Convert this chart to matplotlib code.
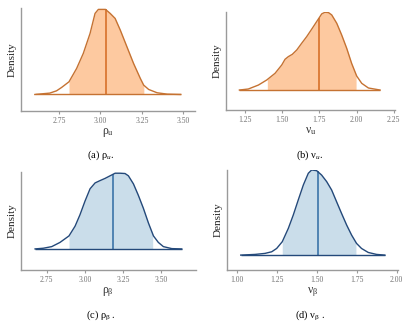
import matplotlib
matplotlib.use("Agg")
import matplotlib.pyplot as plt
import numpy as np

plt.rcParams['font.family'] = ['Liberation Serif', 'DejaVu Serif']
plt.rcParams['mathtext.fontset'] = 'custom'
plt.rcParams['mathtext.rm'] = 'Liberation Serif'
plt.rcParams['mathtext.it'] = 'Liberation Serif:italic'

# posterior densities (peak scaled to 1)
rho_u_x = [2.605, 2.695, 2.736, 2.766, 2.811, 2.857, 2.897, 2.938, 2.968, 2.988, 3.031,
           3.059, 3.089, 3.120, 3.160, 3.200, 3.241, 3.261, 3.291, 3.342, 3.403, 3.483]
rho_u_y = [0.0, 0.016, 0.043, 0.082, 0.149, 0.306, 0.482, 0.718, 0.953, 1.0, 1.0,
           0.953, 0.894, 0.757, 0.561, 0.365, 0.188, 0.110, 0.059, 0.020, 0.004, 0.0]
rho_u_med = 3.031
rho_u_ci = (2.811, 3.262)

nu_u_x = [1.212, 1.272, 1.340, 1.396, 1.452, 1.497, 1.519, 1.541, 1.568, 1.598, 1.631, 1.665, 1.698,
          1.732, 1.766, 1.788, 1.811, 1.833, 1.867, 1.900, 1.934, 1.967, 2.001, 2.035, 2.080, 2.158]
nu_u_y = [0.0, 0.013, 0.064, 0.129, 0.215, 0.322, 0.395, 0.429, 0.459, 0.515, 0.601, 0.687, 0.781,
          0.880, 0.979, 1.0, 0.996, 0.966, 0.858, 0.708, 0.536, 0.343, 0.180, 0.086, 0.026, 0.0]
nu_u_med = 1.746
nu_u_ci = (1.400, 1.997)

rho_b_x = [2.674, 2.728, 2.783, 2.837, 2.896, 2.936, 2.968, 3.001, 3.034, 3.067, 3.099, 3.132, 3.165,
           3.198, 3.230, 3.263, 3.285, 3.318, 3.350, 3.383, 3.416, 3.449, 3.481, 3.514, 3.569, 3.634]
rho_b_y = [0.0, 0.009, 0.030, 0.085, 0.170, 0.298, 0.447, 0.626, 0.787, 0.864, 0.894, 0.923, 0.957,
           0.991, 0.991, 0.987, 0.957, 0.851, 0.702, 0.532, 0.340, 0.170, 0.085, 0.030, 0.004, 0.0]
rho_b_med = 3.184
rho_b_ci = (2.896, 3.444)

nu_b_x = [1.025, 1.115, 1.177, 1.219, 1.250, 1.285, 1.323, 1.354, 1.385, 1.417, 1.448, 1.469, 1.500,
          1.531, 1.563, 1.594, 1.625, 1.656, 1.688, 1.719, 1.750, 1.781, 1.823, 1.875, 1.927]
nu_b_y = [0.0, 0.008, 0.020, 0.039, 0.078, 0.157, 0.314, 0.471, 0.647, 0.824, 0.961, 1.0, 0.992,
          0.941, 0.863, 0.765, 0.627, 0.490, 0.353, 0.235, 0.137, 0.078, 0.031, 0.008, 0.0]
nu_b_med = 1.506
nu_b_ci = (1.285, 1.746)

orange_line = '#C57232'
orange_fill = '#FDC9A0'
orange_med = '#D4691F'
blue_line = '#24497A'
blue_fill = '#CADDEA'
blue_med = '#2F6BA3'

panels = [
    dict(x=rho_u_x, y=rho_u_y, med=rho_u_med, ci=rho_u_ci, pos=[0.0505, 0.658, 0.425, 0.317],
         xlim=(2.52, 3.57), ylim=(-0.196, 1.015), ticks=[2.75, 3.00, 3.25, 3.50],
         xlabel='$\\mathrm{ρ}_\\mathrm{u}$', cap='(a) $\\mathrm{ρ}_{u}$.', cx=0.245, cy=0.523,
         line=orange_line, fill=orange_fill, mline=orange_med),
    dict(x=nu_u_x, y=nu_u_y, med=nu_u_med, ci=nu_u_ci, pos=[0.5505, 0.6615, 0.413, 0.3025],
         xlim=(1.12, 2.259), ylim=(-0.257, 1.007), ticks=[1.25, 1.50, 1.75, 2.00, 2.25],
         xlabel='$\\mathrm{ν}_\\mathrm{u}$', cap='(b) $\\mathrm{ν}_{u}$.', cx=0.755, cy=0.523,
         line=orange_line, fill=orange_fill, mline=orange_med),
    dict(x=rho_b_x, y=rho_b_y, med=rho_b_med, ci=rho_b_ci, pos=[0.0505, 0.169, 0.427, 0.3025],
         xlim=(2.58, 3.726), ylim=(-0.277, 1.01), ticks=[2.75, 3.00, 3.25, 3.50],
         xlabel='$\\mathrm{ρ}_\\mathrm{β}$', cap='(c) $\\mathrm{ρ}_\\mathrm{β}$ .', cx=0.245, cy=0.03,
         line=blue_line, fill=blue_fill, mline=blue_med),
    dict(x=nu_b_x, y=nu_b_y, med=nu_b_med, ci=nu_b_ci, pos=[0.553, 0.169, 0.418, 0.308],
         xlim=(0.9375, 2.01), ylim=(-0.176, 1.0), ticks=[1.00, 1.25, 1.50, 1.75, 2.00],
         xlabel='$\\mathrm{ν}_\\mathrm{β}$', cap='(d) $\\mathrm{ν}_\\mathrm{β}$ .', cx=0.755, cy=0.03,
         line=blue_line, fill=blue_fill, mline=blue_med),
]

fig = plt.figure(figsize=(4.1, 3.25), dpi=100)

for p in panels:
    ax = fig.add_axes(p['pos'])
    x = np.array(p['x'])
    y = np.array(p['y'])
    lo, hi = p['ci']
    inside = (x > lo) & (x < hi)
    fx = np.concatenate([[lo], x[inside], [hi]])
    fy = np.interp(fx, x, y)
    ax.fill_between(fx, 0, fy, color=p['fill'], lw=0)
    ax.vlines(p['med'], 0, np.interp(p['med'], x, y), color=p['mline'], lw=1.1)
    ax.plot(x, y, color=p['line'], lw=1.0, solid_joinstyle='round')
    ax.hlines(0, x[0], x[-1], color=p['line'], lw=1.0)

    ax.set_xlim(p['xlim'])
    ax.set_ylim(p['ylim'])
    ax.set_xticks(p['ticks'])
    ax.set_xticklabels(['%.2f' % t for t in p['ticks']])
    ax.set_yticks([])
    for s in ['top', 'right']:
        ax.spines[s].set_visible(False)
    for s in ['left', 'bottom']:
        ax.spines[s].set_color('#9a9a9a')
        ax.spines[s].set_linewidth(1.0)
    ax.tick_params(axis='x', colors='#9a9a9a', length=2, width=0.8, labelsize=5.5, pad=2,
                   labelcolor='#707070')
    ax.set_ylabel('Density', fontsize=8, color='#222222', labelpad=3)
    ax.set_xlabel(p['xlabel'], fontsize=8.5, color='#333333', labelpad=1)
    fig.text(p['cx'], p['cy'], p['cap'], fontsize=7.5, ha='center', va='center')

fig.savefig('out.png', dpi=100)
